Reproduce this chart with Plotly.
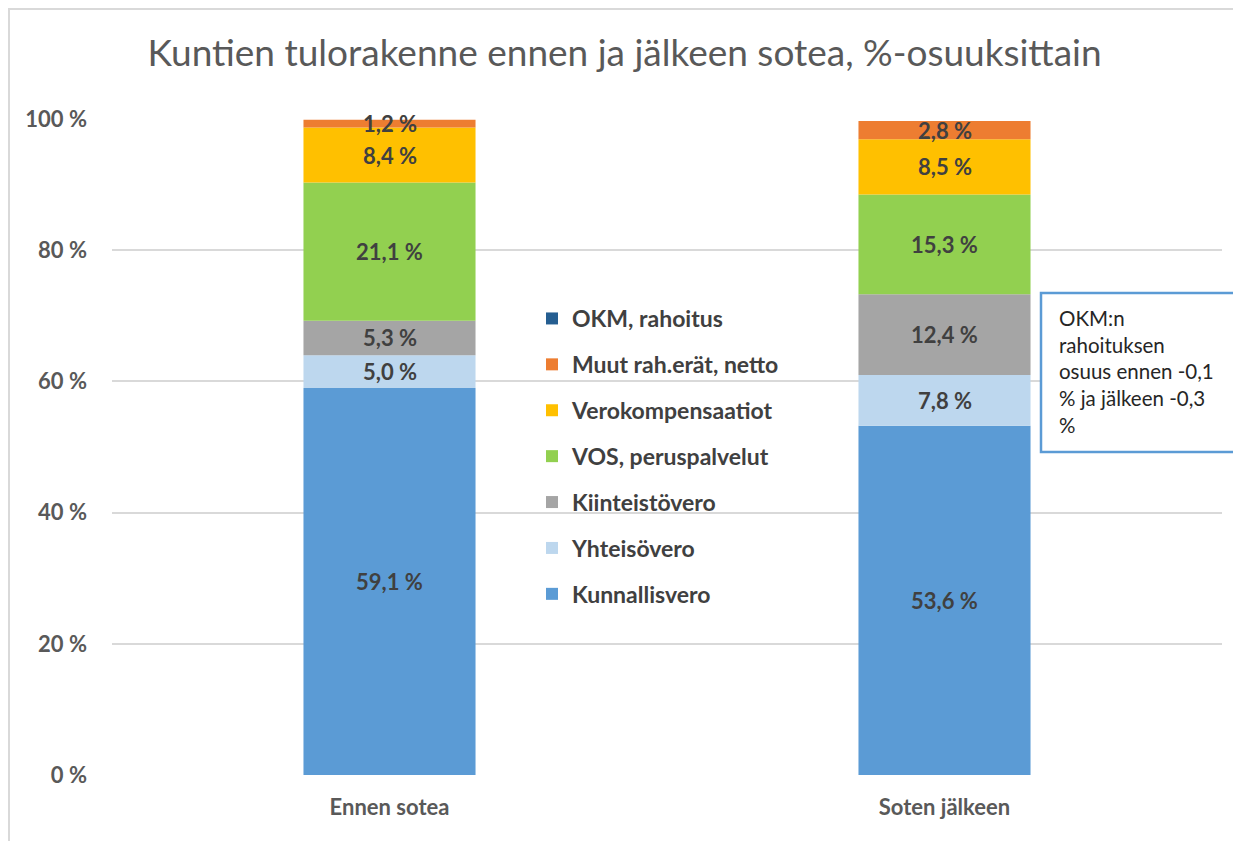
import plotly.graph_objects as go

categories = ["Ennen sotea", "Soten jälkeen"]
series_names = ["Kunnallisvero", "Yhteisövero", "Kiinteistövero", "VOS, peruspalvelut",
                "Verokompensaatiot", "Muut rah.erät, netto", "OKM, rahoitus"]
kunnallisvero = [59.1, 53.6]
yhteisovero = [5.0, 7.8]
kiinteistovero = [5.3, 12.4]
vos = [21.1, 15.3]
verokompensaatiot = [8.4, 8.5]
muut = [1.2, 2.8]
okm = [-0.1, -0.3]
tick_vals = [0, 20, 40, 60, 80, 100]
tick_text = ["0 %", "20 %", "40 %", "60 %", "80 %", "100 %"]
note_lines = ["OKM:n", "rahoituksen", "osuus ennen -0,1", "% ja jälkeen -0,3", "%"]

colors = ["#5B9BD5", "#BDD7EE", "#A5A5A5", "#92D050", "#FFC000", "#ED7D31", "#255E91"]
all_values = [kunnallisvero, yhteisovero, kiinteistovero, vos, verokompensaatiot, muut, okm]
show_labels = [True, True, True, True, True, True, False]

# 100 % stacked chart (as in the spreadsheet): each value is shown as a share
# of the sum of absolute values in its column
abs_tot = [sum(abs(vals[j]) for vals in all_values) for j in range(len(categories))]
shares = [[vals[j] / abs_tot[j] * 100 for j in range(len(categories))] for vals in all_values]

FONT = "Lato"
W, H = 1233, 833          # page adds 8px body margin
L, R, T, B = 104, 19, 111, 66
PW, PH = W - L - R, H - T - B

def px_x(px):
    return (px - L) / PW

def px_y(py):
    return (H - B - py) / PH

fig = go.Figure()
n = len(series_names)
for i, (name, vals, sh, col) in enumerate(zip(series_names, all_values, shares, colors)):
    fig.add_trace(go.Bar(
        x=categories, y=sh, name=name, marker=dict(color=col, line=dict(width=0)),
        customdata=vals, legendgroup=name, legendrank=n - i, hoverinfo="skip",
    ))

# data labels at the centre of each positive segment
cum = [0.0 for _ in categories]
for vals, sh, lab in zip(all_values, shares, show_labels):
    for j, v in enumerate(vals):
        if v > 0:
            if lab:
                fig.add_annotation(x=categories[j], y=cum[j] + sh[j] / 2, xref="x", yref="y",
                                   text=f"{v:.1f} %".replace(".", ","), showarrow=False,
                                   font=dict(family=FONT, size=22, color="#404040", weight="bold"))
            cum[j] += sh[j]

fig.update_layout(
    barmode="relative",
    bargap=0.69,
    width=W, height=H,
    paper_bgcolor="white", plot_bgcolor="white",
    margin=dict(l=L, r=R, t=T, b=B),
    title=dict(text="Kuntien tulorakenne ennen ja jälkeen sotea, %-osuuksittain",
               x=0.5, xanchor="center", y=1 - 45 / H, yanchor="middle", yref="container",
               font=dict(family=FONT, size=37, color="#595959")),
    showlegend=True,
    legend=dict(x=px_x(524), y=px_y(289), xanchor="left", yanchor="top",
                traceorder="grouped", tracegroupgap=13,
                font=dict(family=FONT, size=23, color="#404040", weight="bold"),
                bgcolor="rgba(0,0,0,0)"),
    xaxis=dict(showgrid=False, showline=False, ticks="", ticklabelstandoff=17,
               tickfont=dict(family=FONT, size=22, color="#595959", weight="bold")),
    yaxis=dict(range=[0, 100], tickvals=tick_vals, ticktext=tick_text,
               showgrid=True, gridcolor="#D9D9D9", gridwidth=2, zeroline=False,
               ticks="", ticklabelstandoff=24,
               tickfont=dict(family=FONT, size=22, color="#595959", weight="bold")),
)

# note box
fig.add_shape(type="rect", xref="paper", yref="paper",
              x0=px_x(1033), x1=px_x(1260), y0=px_y(444), y1=px_y(285),
              line=dict(color="#5B9BD5", width=2.5), fillcolor="white", layer="above")
fig.add_annotation(
    xref="paper", yref="paper", x=px_x(1049), y=px_y(296),
    xanchor="left", yanchor="top",
    text="<br>".join(note_lines),
    align="left", showarrow=False,
    font=dict(family=FONT, size=20.5, color="#262626"),
)

# outer chart border
fig.add_shape(type="rect", xref="paper", yref="paper",
              x0=px_x(1), x1=px_x(1300), y0=px_y(900), y1=px_y(1),
              line=dict(color="#D9D9D9", width=2), fillcolor="rgba(0,0,0,0)", layer="below")

fig.write_html("out.html")
